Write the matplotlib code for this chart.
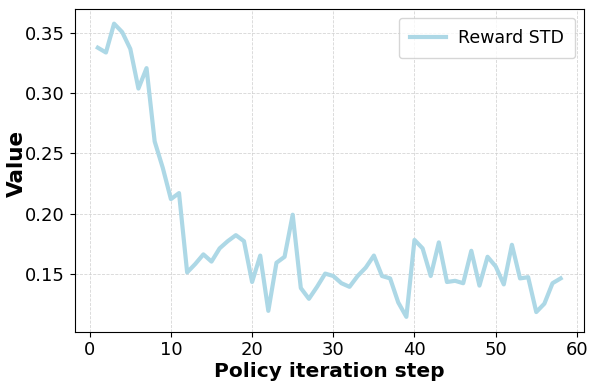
import matplotlib
matplotlib.use("Agg")
import matplotlib.pyplot as plt

steps = list(range(1, 59))
reward_std = [
    0.338, 0.334, 0.358, 0.351, 0.337, 0.304, 0.321, 0.260, 0.238, 0.212,
    0.217, 0.151, 0.158, 0.166, 0.160, 0.171, 0.177, 0.182, 0.177, 0.143,
    0.165, 0.119, 0.159, 0.164, 0.199, 0.138, 0.129, 0.139, 0.150, 0.148,
    0.142, 0.139, 0.148, 0.155, 0.165, 0.148, 0.146, 0.126, 0.114, 0.178,
    0.171, 0.148, 0.176, 0.143, 0.144, 0.142, 0.169, 0.140, 0.164, 0.156,
    0.141, 0.174, 0.146, 0.147, 0.118, 0.125, 0.142, 0.146,
]

fig = plt.figure(figsize=(5.98, 3.92), dpi=100)
ax = fig.add_axes([0.1249, 0.1543, 0.8513, 0.8227])
ax.plot(steps, reward_std, color="#ADD8E6", linewidth=3, label="Reward STD")
ax.grid(True, linestyle="--", color="#cccccc", linewidth=0.6, alpha=0.8)
ax.set_xlabel("Policy iteration step", fontsize=14.5, fontweight="bold", labelpad=2)
ax.set_ylabel("Value", fontsize=15.5, fontweight="bold")
ax.yaxis.set_label_coords(-0.094, 0.52)
ax.tick_params(labelsize=13)
ax.legend(loc="upper right", fontsize=12.5, borderpad=0.65, handlelength=2.07,
          handletextpad=0.7, borderaxespad=0.5)
fig.savefig("out.png", dpi=100)
